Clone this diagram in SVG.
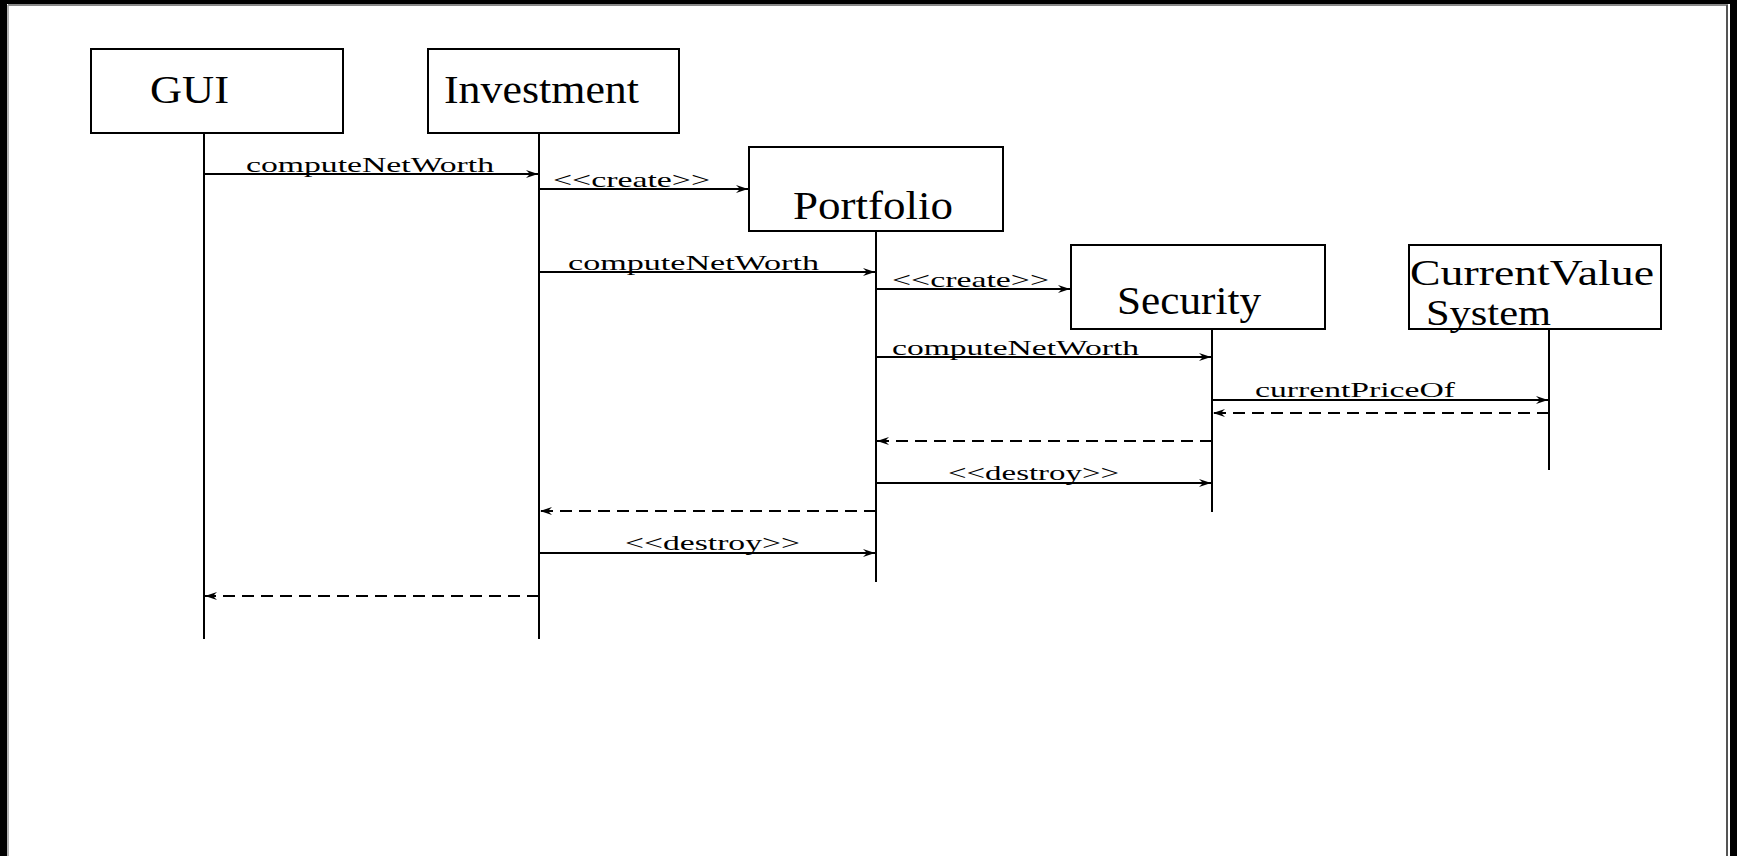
<svg xmlns="http://www.w3.org/2000/svg" width="1737" height="856" viewBox="0 0 1737 856">
<defs>
<style>
.box{fill:#fff;stroke:#000;stroke-width:2}
.life{stroke:#000;stroke-width:2;fill:none}
.msg{stroke:#000;stroke-width:2;fill:none;marker-end:url(#ah)}
.ret{stroke:#000;stroke-width:2;fill:none;stroke-dasharray:12 7;marker-end:url(#ah)}
.big{font-family:"Liberation Serif",serif;font-size:40px;fill:#000}
.cvs{font-family:"Liberation Serif",serif;font-size:35px;fill:#000}
.lbl{font-family:"Liberation Serif",serif;font-size:22px;fill:#000}
</style>
<marker id="ah" viewBox="0 0 12 8" refX="12" refY="4" markerWidth="12" markerHeight="8" markerUnits="userSpaceOnUse" orient="auto">
<path d="M0,0 L12,4 L0,8 L4,4 Z" fill="#000"/>
</marker>
</defs>
<rect x="0" y="0" width="1737" height="856" fill="#fff"/>
<rect x="0" y="0" width="1737" height="4" fill="#000"/>
<rect x="0" y="0" width="7" height="856" fill="#000"/>
<rect x="1730" y="0" width="7" height="856" fill="#000"/>
<line x1="8" y1="5" x2="1728" y2="5" stroke="#888" stroke-width="2"/>
<line x1="8" y1="5" x2="8" y2="856" stroke="#999" stroke-width="1.5"/>
<line x1="1727" y1="5" x2="1727" y2="856" stroke="#555" stroke-width="2"/>

<g id="gui">
<rect class="box" x="91" y="49" width="252" height="84"/>
<line class="life" x1="204" y1="133" x2="204" y2="639"/>
<text class="big" x="150" y="103" textLength="79" lengthAdjust="spacingAndGlyphs">GUI</text>
</g>
<g id="investment">
<rect class="box" x="428" y="49" width="251" height="84"/>
<line class="life" x1="539" y1="133" x2="539" y2="639"/>
<text class="big" x="444" y="103" textLength="195" lengthAdjust="spacingAndGlyphs">Investment</text>
</g>
<g id="portfolio">
<rect class="box" x="749" y="147" width="254" height="84"/>
<line class="life" x1="876" y1="231" x2="876" y2="582"/>
<text class="big" x="793" y="219" textLength="160" lengthAdjust="spacingAndGlyphs">Portfolio</text>
</g>
<g id="security">
<rect class="box" x="1071" y="245" width="254" height="84"/>
<line class="life" x1="1212" y1="329" x2="1212" y2="512"/>
<text class="big" x="1117" y="314" textLength="144" lengthAdjust="spacingAndGlyphs">Security</text>
</g>
<g id="currentvaluesystem">
<rect class="box" x="1409" y="245" width="252" height="84"/>
<line class="life" x1="1549" y1="329" x2="1549" y2="470"/>
<text class="cvs" x="1410" y="285" textLength="244" lengthAdjust="spacingAndGlyphs">CurrentValue</text>
<text class="cvs" x="1426" y="325" textLength="125" lengthAdjust="spacingAndGlyphs">System</text>
</g>

<g id="connectors">
<line class="msg" x1="204" y1="174" x2="538" y2="174"/>
<text class="lbl" x="246" y="172" textLength="248" lengthAdjust="spacingAndGlyphs">computeNetWorth</text>
<line class="msg" x1="539" y1="189" x2="748" y2="189"/>
<text class="lbl" x="553" y="187" textLength="157" lengthAdjust="spacingAndGlyphs">&lt;&lt;create&gt;&gt;</text>
<line class="msg" x1="539" y1="272" x2="875" y2="272"/>
<text class="lbl" x="568" y="270" textLength="251" lengthAdjust="spacingAndGlyphs">computeNetWorth</text>
<line class="msg" x1="876" y1="289" x2="1070" y2="289"/>
<text class="lbl" x="892" y="287" textLength="157" lengthAdjust="spacingAndGlyphs">&lt;&lt;create&gt;&gt;</text>
<line class="msg" x1="876" y1="357" x2="1211" y2="357"/>
<text class="lbl" x="892" y="355" textLength="247" lengthAdjust="spacingAndGlyphs">computeNetWorth</text>
<line class="msg" x1="1212" y1="400" x2="1548" y2="400"/>
<text class="lbl" x="1255" y="397" textLength="200" lengthAdjust="spacingAndGlyphs">currentPriceOf</text>
<line class="ret" x1="1549" y1="413" x2="1213" y2="413"/>
<line class="ret" x1="1212" y1="441" x2="877" y2="441"/>
<line class="msg" x1="876" y1="483" x2="1211" y2="483"/>
<text class="lbl" x="948" y="480" textLength="171" lengthAdjust="spacingAndGlyphs">&lt;&lt;destroy&gt;&gt;</text>
<line class="ret" x1="876" y1="511" x2="540" y2="511"/>
<line class="msg" x1="539" y1="553" x2="875" y2="553"/>
<text class="lbl" x="625" y="550" textLength="175" lengthAdjust="spacingAndGlyphs">&lt;&lt;destroy&gt;&gt;</text>
<line class="ret" x1="539" y1="596" x2="205" y2="596"/>
</g>
</svg>
